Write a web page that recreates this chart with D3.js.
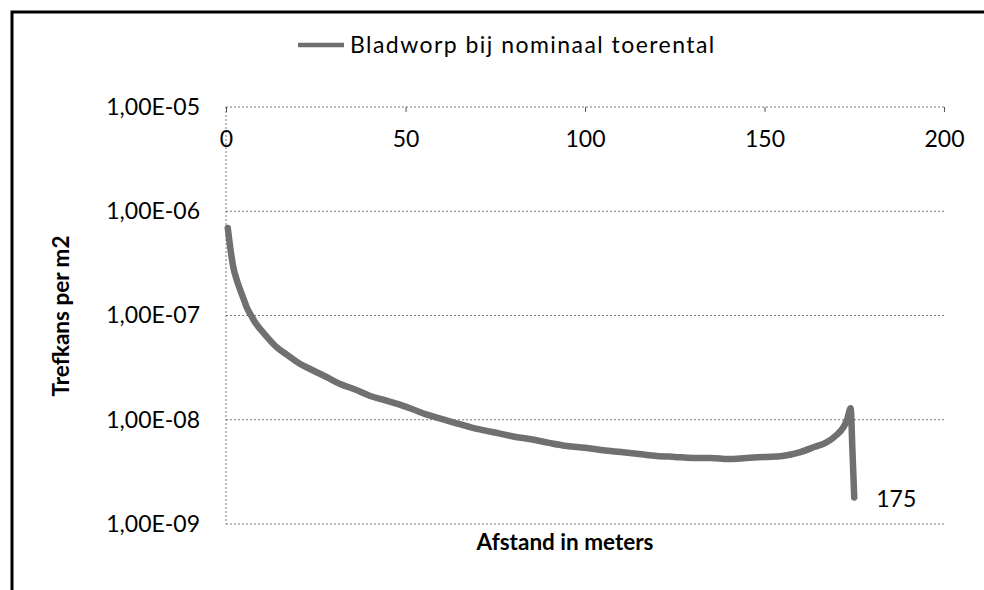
<!DOCTYPE html>
<html><head><meta charset="utf-8">
<script src="https://cdn.jsdelivr.net/npm/d3@7"></script>
<style>
html,body{margin:0;padding:0;background:#fff;}
svg{display:block;}
text{font-family:Lato,"Open Sans",sans-serif;fill:#000;}
</style></head>
<body>
<svg id="c" width="984" height="590"></svg>
<script>
const distance = [0.5,1,2,3,4,5,6,7,8,10,12,14,17,20,24,28,32,36,40,44,48,52,56,60,64,68,72,76,80,85,90,95,100,105,110,115,120,125,130,135,140,145,150,155,160,164,167,170,172,173,174,174.5,175];
const trefkans = [6.9e-7,5.0e-7,2.95e-7,2.19e-7,1.74e-7,1.41e-7,1.15e-7,1.0e-7,8.7e-8,7.1e-8,5.9e-8,5.0e-8,4.2e-8,3.55e-8,3.0e-8,2.57e-8,2.19e-8,1.95e-8,1.70e-8,1.55e-8,1.41e-8,1.26e-8,1.12e-8,1.02e-8,9.3e-9,8.5e-9,7.9e-9,7.4e-9,6.9e-9,6.5e-9,6.0e-9,5.6e-9,5.4e-9,5.1e-9,4.9e-9,4.7e-9,4.5e-9,4.4e-9,4.3e-9,4.3e-9,4.2e-9,4.3e-9,4.4e-9,4.5e-9,4.9e-9,5.5e-9,6.0e-9,7.1e-9,8.5e-9,1.0e-8,1.29e-8,5.0e-9,1.8e-9];
const xTicks = [0,50,100,150,200];
const yTicks = [1e-9,1e-8,1e-7,1e-6,1e-5];
const yTickLabels = ["1,00E-09","1,00E-08","1,00E-07","1,00E-06","1,00E-05"];
const seriesName = "Bladworp bij nominaal toerental";
const xTitle = "Afstand in meters";
const yTitle = "Trefkans per m2";
const endLabel = "175";

const svg = d3.select("#c");
// outer frame (only top & left visible in reference)
svg.append("rect").attr("x",12).attr("y",12).attr("width",1000).attr("height",600)
  .attr("fill","none").attr("stroke","#000").attr("stroke-width",3);

const x = d3.scaleLinear().domain([0,200]).range([226,944]);
const y = d3.scaleLog().domain([1e-9,1e-5]).range([524,107]);

// gridlines
svg.append("g").selectAll("line").data(yTicks).join("line")
  .attr("x1",x(0)).attr("x2",x(200)).attr("y1",d=>y(d)).attr("y2",d=>y(d))
  .attr("stroke","#777").attr("stroke-width",1).attr("stroke-dasharray","2,2");
// left vertical axis (dotted)
svg.append("line").attr("x1",x(0)).attr("x2",x(0)).attr("y1",y(1e-5)).attr("y2",y(1e-9))
  .attr("stroke","#777").attr("stroke-dasharray","2,2");

// y axis labels
const yAxis = d3.axisLeft(y).tickValues(yTicks).tickSize(0).tickPadding(26)
  .tickFormat(d=>yTickLabels[yTicks.indexOf(d)]);
const gy = svg.append("g").attr("transform",`translate(${x(0)},0)`).call(yAxis);
gy.select(".domain").remove();
gy.selectAll("text").style("font-size","23px").style("font-family","Lato").attr("fill","#000");

// x axis at top gridline
const xAxis = d3.axisBottom(x).tickValues(xTicks).tickSize(5).tickPadding(19).tickFormat(d3.format("d"));
const gx = svg.append("g").attr("transform",`translate(0,${y(1e-5)})`).call(xAxis);
gx.select(".domain").remove();
gx.selectAll(".tick line").attr("stroke","#555");
gx.selectAll("text").style("font-size","23px").style("font-family","Lato").attr("fill","#000");

// series line
const line = d3.line().x((d,i)=>x(distance[i])).y(d=>y(d)).curve(d3.curveMonotoneX);
svg.append("path").datum(trefkans).attr("d",line)
  .attr("fill","none").attr("stroke","#707070").attr("stroke-width",6.5)
  .attr("stroke-linejoin","round").attr("stroke-linecap","round");

// end label
svg.append("text").attr("x",x(175)+22).attr("y",y(1.8e-9)+10)
  .style("font-size","23px").text(endLabel);

// legend
svg.append("line").attr("x1",298).attr("x2",344).attr("y1",45).attr("y2",45)
  .attr("stroke","#6e6e6e").attr("stroke-width",4.5);
svg.append("text").attr("x",350).attr("y",53).style("font-size","23px")
  .style("letter-spacing","1.45px").text(seriesName);

// axis titles
svg.append("text").attr("x",565).attr("y",550).attr("text-anchor","middle")
  .style("font-size","22.5px").style("font-weight","bold").text(xTitle);
svg.append("text").attr("transform","translate(69,316) rotate(-90)").attr("text-anchor","middle")
  .style("font-size","22.5px").style("font-weight","bold").text(yTitle);
</script>
</body></html>
